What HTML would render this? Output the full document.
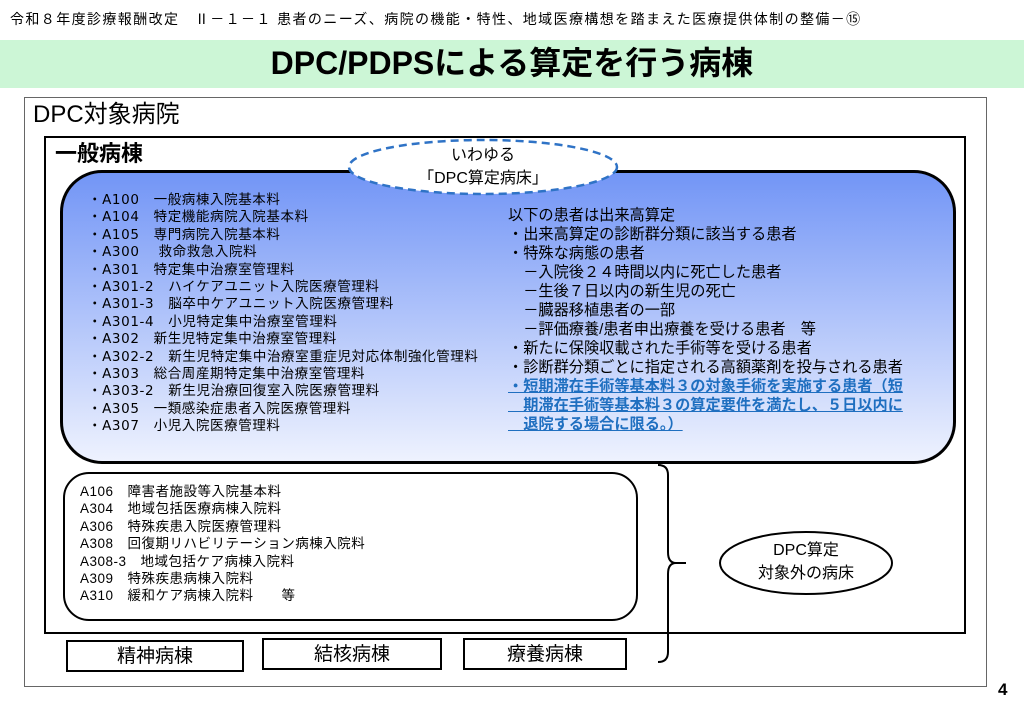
<!DOCTYPE html>
<html><head><meta charset="utf-8"><style>
body{margin:0;width:1024px;height:709px;background:#fff;position:relative;overflow:hidden;font-family:"Liberation Sans","Noto Sans CJK JP",sans-serif;color:#000}
.a{position:absolute;white-space:nowrap}
</style></head><body>
<div class="a" style="left:10px;top:9px;font-size:14px;letter-spacing:1.4px;">令和８年度診療報酬改定　Ⅱ－１－１ 患者のニーズ、病院の機能・特性、地域医療構想を踏まえた医療提供体制の整備－⑮</div>
<div class="a" style="left:0;top:40px;width:1024px;height:48px;background:#ccf6d6;"></div>
<div class="a" style="left:0;top:42px;width:1024px;text-align:center;font-size:32px;font-weight:bold;line-height:42px;">DPC/PDPSによる算定を行う病棟</div>
<div class="a" style="left:24px;top:97px;width:961px;height:588px;border:1px solid #666;"></div>
<div class="a" style="left:33px;top:100px;font-size:24px;line-height:30px;">DPC対象病院</div>
<div class="a" style="left:44px;top:136px;width:918px;height:494px;border:2px solid #000;"></div>
<div class="a" style="left:55px;top:140px;font-size:22px;font-weight:bold;line-height:28px;">一般病棟</div>
<div class="a" style="left:60px;top:170px;width:890px;height:288px;border:3px solid #000;border-radius:42px;background:linear-gradient(#7295f6,#eef2fe);"></div>
<svg class="a" style="left:0;top:0" width="1024" height="709">
<ellipse cx="483" cy="167" rx="134" ry="27" fill="#fff" stroke="#2f73c6" stroke-width="2.5" stroke-dasharray="8,5"/>
<ellipse cx="806" cy="563" rx="86" ry="31" fill="#fff" stroke="#000" stroke-width="2"/>
<path d="M658 465 Q668 465 668 475 L668 552 Q668 563 676 563 L686 563 M676 563 Q668 563 668 574 L668 652 Q668 662 658 662" fill="none" stroke="#000" stroke-width="2"/>
</svg>
<div class="a" style="left:349px;top:144px;width:268px;text-align:center;font-size:16px;line-height:23px;">いわゆる<br>「DPC算定病床」</div>
<div class="a" style="left:88px;top:192px;font-family:'DejaVu Sans','Noto Sans CJK JP',sans-serif;font-size:13.5px;letter-spacing:0.6px;line-height:17.4px;">・A100　一般病棟入院基本料<br>・A104　特定機能病院入院基本料<br>・A105　専門病院入院基本料<br>・A300　 救命救急入院料<br>・A301　特定集中治療室管理料<br>・A301-2　ハイケアユニット入院医療管理料<br>・A301-3　脳卒中ケアユニット入院医療管理料<br>・A301-4　小児特定集中治療室管理料<br>・A302　新生児特定集中治療室管理料<br>・A302-2　新生児特定集中治療室重症児対応体制強化管理料<br>・A303　総合周産期特定集中治療室管理料<br>・A303-2　新生児治療回復室入院医療管理料<br>・A305　一類感染症患者入院医療管理料<br>・A307　小児入院医療管理料</div>
<div class="a" style="left:508px;top:206px;font-size:15.2px;line-height:19px;">以下の患者は出来高算定<br>・出来高算定の診断群分類に該当する患者<br>・特殊な病態の患者<br>　－入院後２４時間以内に死亡した患者<br>　－生後７日以内の新生児の死亡<br>　－臓器移植患者の一部<br>　－評価療養/患者申出療養を受ける患者　等<br>・新たに保険収載された手術等を受ける患者<br>・診断群分類ごとに指定される高額薬剤を投与される患者<br><span style="color:#1f6fc0;font-weight:bold;text-decoration:underline;">・短期滞在手術等基本料３の対象手術を実施する患者（短<br>　期滞在手術等基本料３の算定要件を満たし、５日以内に<br>　退院する場合に限る。）</span></div>
<div class="a" style="left:63px;top:472px;width:571px;height:145px;border:2px solid #000;border-radius:26px;background:#fff;"></div>
<div class="a" style="left:80px;top:483px;font-size:13.5px;line-height:17.4px;letter-spacing:0.5px;">A106　障害者施設等入院基本料<br>A304　地域包括医療病棟入院料<br>A306　特殊疾患入院医療管理料<br>A308　回復期リハビリテーション病棟入院料<br>A308-3　地域包括ケア病棟入院料<br>A309　特殊疾患病棟入院料<br>A310　緩和ケア病棟入院料　　等</div>
<div class="a" style="left:720px;top:539px;width:172px;text-align:center;font-size:16px;line-height:23px;">DPC算定<br>対象外の病床</div>
<div class="a" style="left:66px;top:640px;width:174px;height:28px;border:2px solid #000;text-align:center;font-size:19px;line-height:29px;">精神病棟</div>
<div class="a" style="left:262px;top:638px;width:176px;height:28px;border:2px solid #000;text-align:center;font-size:19px;line-height:29px;">結核病棟</div>
<div class="a" style="left:463px;top:638px;width:160px;height:28px;border:2px solid #000;text-align:center;font-size:19px;line-height:29px;">療養病棟</div>
<div class="a" style="left:998px;top:680px;font-size:17px;font-weight:bold;">4</div>
</body></html>
